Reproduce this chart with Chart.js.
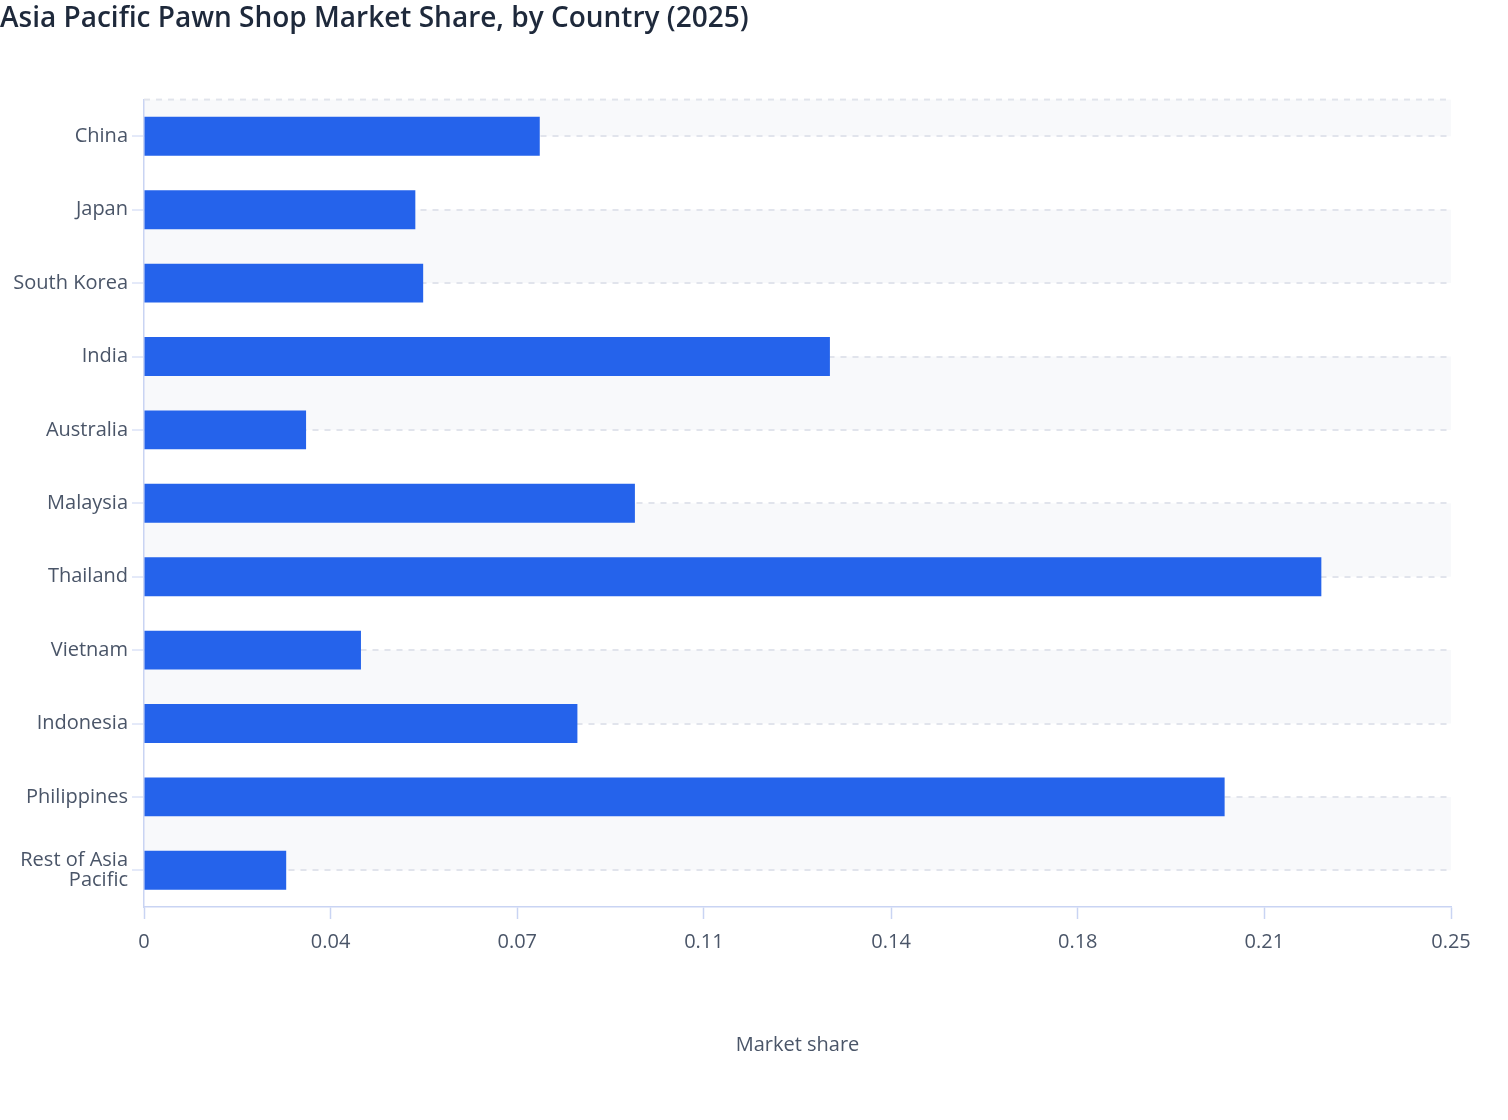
<!DOCTYPE html>
<html>
<head>
<meta charset="utf-8">
<script src="https://cdn.jsdelivr.net/npm/chart.js@4.4.1/dist/chart.umd.min.js"></script>
<style>
  html, body { margin: 0; padding: 0; background: #ffffff; }
  #wrap { width: 1508px; height: 1120px; position: relative; }
</style>
</head>
<body>
<div id="wrap"><canvas id="c"></canvas></div>
<script>
// ---- data ----
const chartTitle = 'Asia Pacific Pawn Shop Market Share, by Country (2025)';
const xAxisTitle = 'Market share';
const countries = ['China', 'Japan', 'South Korea', 'India', 'Australia', 'Malaysia',
  'Thailand', 'Vietnam', 'Indonesia', 'Philippines', 'Rest of Asia Pacific'];
const marketShare = [0.0757, 0.0519, 0.0534, 0.1312, 0.0310, 0.0939,
  0.2252, 0.0415, 0.0829, 0.2067, 0.0272];
const xTickValues = [0, 0.0357, 0.0714, 0.1071, 0.1429, 0.1786, 0.2143, 0.25];
const xTickLabels = ['0', '0.04', '0.07', '0.11', '0.14', '0.18', '0.21', '0.25'];

// ---- styles ----
const FONT = "'Open Sans', 'Noto Sans', sans-serif";
const BAR = '#2563eb';
const AXIS = '#c9d4f3';
const GRID = '#e1e4ec';
const BAND = '#f8f9fb';
const LABEL = '#4a5568';

function wrapLabel(s) {
  if (s.length <= 12) return s;
  const words = s.split(' ');
  const lines = []; let cur = '';
  for (const w of words) {
    if ((cur + ' ' + w).trim().length > 12 && cur) { lines.push(cur); cur = w; }
    else cur = (cur + ' ' + w).trim();
  }
  if (cur) lines.push(cur);
  return lines;
}

const bandsPlugin = {
  id: 'bands',
  beforeDraw(chart) {
    const { ctx, chartArea: a, scales: { y } } = chart;
    const n = countries.length;
    const edges = [a.top];
    for (let i = 0; i < n; i++) edges.push(y.getPixelForValue(i));
    edges.push(a.bottom);
    ctx.save();
    ctx.fillStyle = BAND;
    for (let k = 0; k < edges.length - 1; k += 2) {
      ctx.fillRect(a.left, edges[k], a.right - a.left, edges[k + 1] - edges[k]);
    }
    ctx.restore();
  },
  beforeDatasetsDraw(chart) {
    const { ctx, chartArea: a } = chart;
    ctx.save();
    ctx.strokeStyle = GRID;
    ctx.lineWidth = 2;
    ctx.setLineDash([6, 6]);
    ctx.beginPath();
    ctx.moveTo(a.left, a.top);
    ctx.lineTo(a.right, a.top);
    ctx.stroke();
    ctx.restore();
  }
};

new Chart(document.getElementById('c'), {
  type: 'bar',
  data: {
    labels: countries,
    datasets: [{
      label: xAxisTitle,
      data: marketShare,
      backgroundColor: BAR,
      borderWidth: 0,
      categoryPercentage: 1,
      barPercentage: 0.53
    }]
  },
  options: {
    indexAxis: 'y',
    responsive: true,
    maintainAspectRatio: false,
    animation: false,
    layout: { padding: { left: 0, right: 57, top: 0, bottom: 0 } },
    plugins: {
      legend: { display: false },
      tooltip: { enabled: false },
      title: {
        display: true,
        text: chartTitle,
        align: 'start',
        color: '#1e293b',
        font: { family: FONT, size: 28, weight: '600', lineHeight: 1.2 },
        padding: { top: 2, bottom: 64 }
      }
    },
    scales: {
      x: {
        type: 'linear',
        min: 0,
        max: 0.25,
        afterBuildTicks: (scale) => { scale.ticks = xTickValues.map(v => ({ value: v })); },
        afterFit: (scale) => { scale.height = 213; },
        ticks: {
          autoSkip: false,
          maxRotation: 0,
          padding: 11,
          color: LABEL,
          font: { family: FONT, size: 20, lineHeight: 1.2 },
          callback: (v, i) => xTickLabels[i]
        },
        grid: {
          drawOnChartArea: false,
          drawTicks: true,
          tickLength: 12,
          tickColor: AXIS,
          tickWidth: 1.5,
          tickBorderDash: []
        },
        border: { display: true, color: AXIS, width: 1.5 },
        title: {
          display: true,
          text: xAxisTitle,
          color: LABEL,
          font: { family: FONT, size: 20, lineHeight: 1.2 },
          padding: { top: 0, bottom: 63 }
        }
      },
      y: {
        type: 'category',
        afterFit: (scale) => { scale.width = 144; },
        ticks: {
          padding: 4,
          color: LABEL,
          font: { family: FONT, size: 20, lineHeight: 0.97 },
          callback: function (v, i) { return wrapLabel(countries[i]); }
        },
        grid: {
          offset: false,
          color: GRID,
          lineWidth: 2,
          drawTicks: true,
          tickLength: 12,
          tickColor: AXIS,
          tickWidth: 1,
          tickBorderDash: []
        },
        border: { display: true, color: AXIS, width: 1.5, dash: [6, 6] }
      }
    }
  },
  plugins: [bandsPlugin]
});
</script>
</body>
</html>
